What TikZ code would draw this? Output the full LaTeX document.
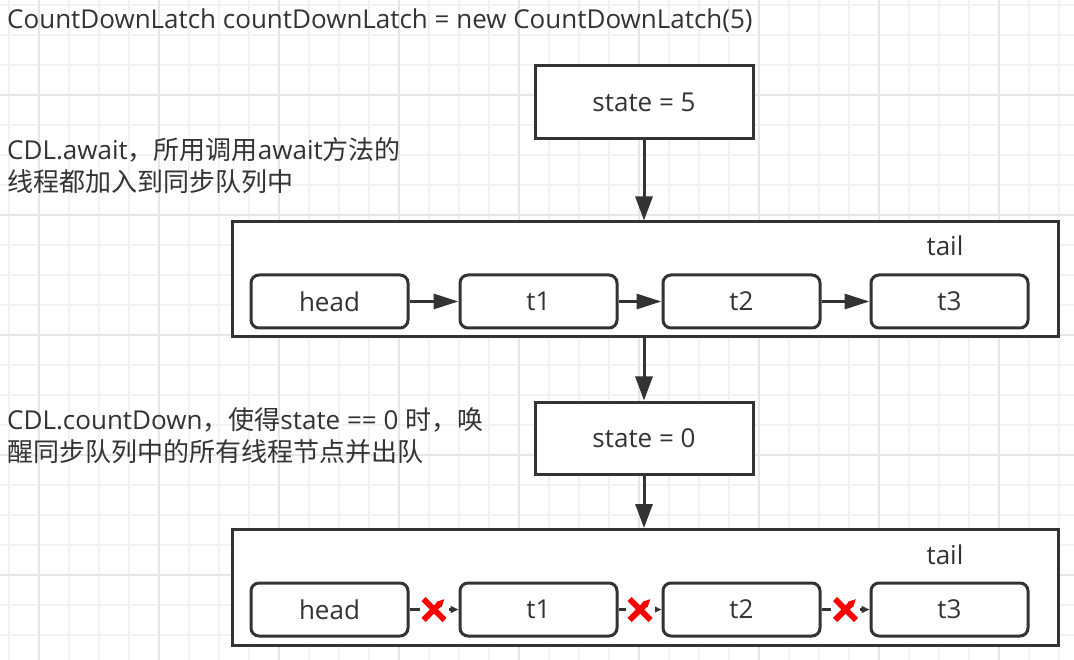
\documentclass[tikz,border=0pt]{standalone}
\usepackage{fontspec}
\setmainfont{Open Sans}
\newfontfamily\cjk{Noto Sans CJK SC}
\usetikzlibrary{arrows.meta,calc}
\definecolor{ink}{HTML}{333333}
\definecolor{gridminor}{HTML}{F2F2F2}
\definecolor{gridmajor}{HTML}{E6E6E6}
\definecolor{xred}{HTML}{FF0000}
\begin{document}
\begin{tikzpicture}[x=1pt,y=-1pt,
  every node/.style={text=ink, font=\fontsize{26}{31}\selectfont},
  plainbox/.style={draw=ink, line width=3pt, fill=white, inner sep=0pt},
  qnode/.style={draw=ink, line width=3pt, fill=white, rounded corners=8pt,
    minimum width=157pt, minimum height=53pt, inner sep=0pt},
  bigarrow/.style={draw=ink, line width=3pt, -{Triangle[length=24pt,width=17pt]}},
  linkarrow/.style={draw=ink, line width=3pt, -{Triangle[length=25pt,width=15pt]}},
  cutlink/.style={draw=ink, line width=3pt, -{Triangle[length=8pt,width=7pt]}},
  xmark/.style={fill=white, inner sep=0pt, minimum size=29pt,
    path picture={\draw[xred, line width=6pt]
      ([shift={(-10.5,-10.5)}]path picture bounding box.center) --
      ([shift={(10.5,10.5)}]path picture bounding box.center)
      ([shift={(-10.5,10.5)}]path picture bounding box.center) --
      ([shift={(10.5,-10.5)}]path picture bounding box.center);}},
  lbl/.style={anchor=base west, inner sep=0pt},
  taillbl/.style={anchor=base, inner sep=0pt}
]
\useasboundingbox (0,0) rectangle (1074,660);
\fill[white] (0,0) rectangle (1074,660);
% background grid
\foreach \gx in {9,39,...,1074} \draw[gridminor, line width=1.5pt] (\gx,0) -- (\gx,660);
\foreach \gy in {5,35,...,660} \draw[gridminor, line width=1.5pt] (0,\gy) -- (1074,\gy);
\foreach \gx in {39,159,...,1074} \draw[gridmajor, line width=1.5pt] (\gx,0) -- (\gx,660);
\foreach \gy in {95,215,...,660} \draw[gridmajor, line width=1.5pt] (0,\gy) -- (1074,\gy);

% texts
\node[lbl] (title) at (7,29) {CountDownLatch countDownLatch = new CountDownLatch(5)};
\node[lbl] (awaitA) at (7,160) {CDL.await{\cjk，所用调用}await{\cjk 方法的}};
\node[lbl] (awaitB) at (7,192) {\cjk 线程都加入到同步队列中};
\node[lbl] (cdA) at (7,429) {CDL.countDown{\cjk，使得}state == 0 {\cjk 时，唤}};
\node[lbl] (cdB) at (7,461) {\cjk 醒同步队列中的所有线程节点并出队};

% state boxes
\node[plainbox, minimum width=218pt, minimum height=73pt] (s5) at (644,102.5) {state = 5};
\node[plainbox, minimum width=218pt, minimum height=72pt] (s0) at (644,438) {state = 0};

% queue 1
\node[plainbox, minimum width=826pt, minimum height=115pt] (outerA) at (645,279.5) {};
\node[taillbl] (tailA) at (945,256) {tail};
\node[qnode] (headA) at (329.5,301.5) {head};
\node[qnode] (t1A) at (538.5,301.5) {t1};
\node[qnode] (t2A) at (741.5,301.5) {t2};
\node[qnode] (t3A) at (949.5,301.5) {t3};
\draw[linkarrow] (headA) -- (t1A);
\draw[linkarrow] (t1A) -- (t2A);
\draw[linkarrow] (t2A) -- (t3A);

% queue 2
\node[plainbox, minimum width=826pt, minimum height=116pt] (outerB) at (645,587.5) {};
\node[taillbl] (tailB) at (945,564) {tail};
\node[qnode] (headB) at (329.5,609.5) {head};
\node[qnode] (t1B) at (538.5,609.5) {t1};
\node[qnode] (t2B) at (741.5,609.5) {t2};
\node[qnode] (t3B) at (949.5,609.5) {t3};
\draw[cutlink] (headB) -- (t1B) node[xmark, midway] (xA) {};
\draw[cutlink] (t1B) -- (t2B) node[xmark, midway] (xB) {};
\draw[cutlink] (t2B) -- (t3B) node[xmark, midway] (xC) {};

% vertical arrows
\draw[bigarrow] (s5.south) -- (s5.south |- outerA.north);
\draw[bigarrow] (s0.north |- outerA.south) -- (s0.north);
\draw[bigarrow] (s0.south) -- (s0.south |- outerB.north);
\end{tikzpicture}
\end{document}
